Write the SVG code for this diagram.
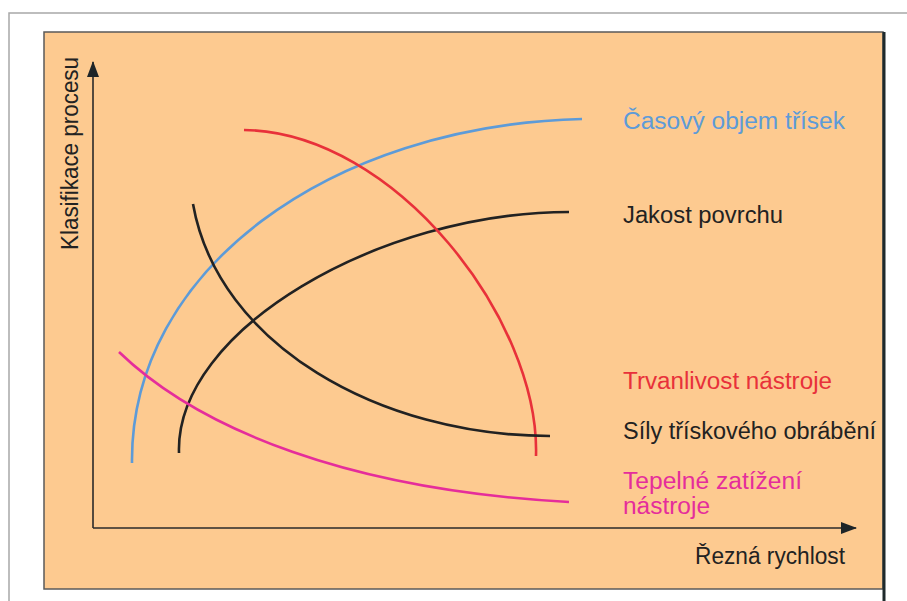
<svg xmlns="http://www.w3.org/2000/svg" width="907" height="601" viewBox="0 0 907 601">
<style>
.lbl{font-family:"Liberation Sans","DejaVu Sans",sans-serif;font-size:23px}
.c{fill:none;stroke-width:2.6;stroke-linecap:butt}
.ax{fill:none;stroke:#2a2a2a;stroke-width:1.6}
</style>
<defs>
<marker id="ah" markerWidth="16" markerHeight="12" refX="15" refY="6" orient="auto" markerUnits="userSpaceOnUse">
<path d="M0,0 L16,6 L0,12 Z" fill="#1e2528"/>
</marker>
</defs>
<rect width="907" height="601" fill="#ffffff"/>
<path d="M9,601 V13 H907" fill="none" stroke="#a8a8a8" stroke-width="1.5"/>
<rect x="44" y="32" width="839" height="557" fill="#fdca90" stroke="#5a5a5a" stroke-width="1.5"/>
<line x1="884" y1="32" x2="884" y2="601" stroke="#1f2a2c" stroke-width="3"/>
<g id="axes">
<path class="ax" d="M93,528 V62" marker-end="url(#ah)"/>
<path class="ax" d="M93,528 H856" marker-end="url(#ah)"/>
</g>
<g id="connectors">
<path id="casovy-curve" class="c" stroke="#5d9bd8" d="M132,463 C130,270 330,125 582,119"/>
<path id="jakost-curve" class="c" stroke="#222222" d="M179,453 C175,330 380,212 569,212"/>
<path id="trvanlivost-curve" class="c" stroke="#e8313a" d="M244,130 C395,132 540,320 536,456"/>
<path id="sily-curve" class="c" stroke="#222222" d="M193,204 C218,345 380,436 550,436"/>
<path id="tepelne-curve" class="c" stroke="#e52d9b" d="M119,352 C200,430 350,490 569,502"/>
</g>
<g id="label-y"><text class="lbl" fill="#222" transform="translate(78,250) rotate(-90)" textLength="193" lengthAdjust="spacingAndGlyphs">Klasifikace procesu</text></g>
<g id="label-x"><text class="lbl" fill="#222" x="695" y="564" textLength="150" lengthAdjust="spacingAndGlyphs">Řezná rychlost</text></g>
<g id="node-casovy"><text class="lbl" fill="#5d9bd8" x="623" y="129" textLength="222" lengthAdjust="spacingAndGlyphs">Časový objem třísek</text></g>
<g id="node-jakost"><text class="lbl" fill="#222" x="623" y="223" textLength="160" lengthAdjust="spacingAndGlyphs">Jakost povrchu</text></g>
<g id="node-trvanlivost"><text class="lbl" fill="#e8313a" x="623" y="389" textLength="209" lengthAdjust="spacingAndGlyphs">Trvanlivost nástroje</text></g>
<g id="node-sily"><text class="lbl" fill="#222" x="623" y="439" textLength="253" lengthAdjust="spacingAndGlyphs">Síly třískového obrábění</text></g>
<g id="node-tepelne"><text class="lbl" fill="#e52d9b" x="623" y="489" textLength="179" lengthAdjust="spacingAndGlyphs">Tepelné zatížení</text><text class="lbl" fill="#e52d9b" x="623" y="514" textLength="87" lengthAdjust="spacingAndGlyphs">nástroje</text></g>
</svg>
